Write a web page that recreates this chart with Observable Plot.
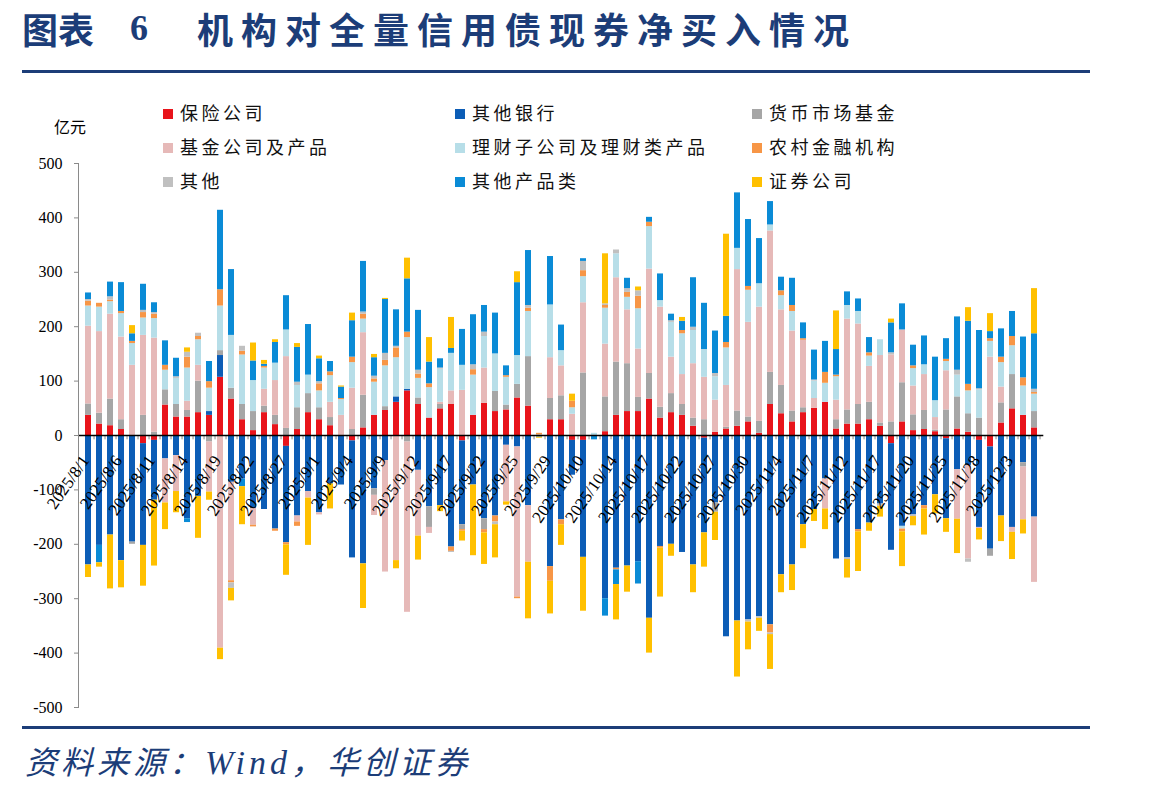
<!DOCTYPE html>
<html><head><meta charset="utf-8">
<script src="https://cdn.jsdelivr.net/npm/d3@7"></script>
<script src="https://cdn.jsdelivr.net/npm/@observablehq/plot@0.6"></script>
<style>
body{margin:0;background:#fff;}
#page{position:relative;width:1149px;height:796px;overflow:hidden;background:#fff;font-family:"Noto Sans CJK SC",sans-serif;}
.rule{position:absolute;left:22px;width:1068px;height:3px;background:#1C3D78;}
.t{position:absolute;top:8px;font-size:36px;line-height:40px;font-weight:700;color:#1C3D78;white-space:nowrap;}
#chart{position:absolute;left:0;top:95px;}
#unit{position:absolute;left:54px;top:116px;font-size:16px;line-height:20px;color:#000;}
.lg{position:absolute;font-size:18px;line-height:22px;letter-spacing:3.5px;color:#111;white-space:nowrap;}
.lg i{display:inline-block;width:10px;height:10px;margin-right:7px;vertical-align:1px;}
#source{position:absolute;left:25px;top:739px;font-size:32px;line-height:42px;font-style:italic;letter-spacing:4px;color:#1C3D78;white-space:nowrap;}
#source .w{font-family:"Liberation Serif",serif;letter-spacing:4px;font-size:34px;}
</style></head><body>
<div id="page">
  <span class="t" style="left:22px">图表</span>
  <span class="t" style="left:130px;font-family:'Liberation Serif',serif">6</span>
  <span class="t" style="left:197px;letter-spacing:8px">机构对全量信用债现券净买入情况</span>
  <div class="rule" style="top:70px"></div>
  <div id="chart"></div>
  <div id="unit">亿元</div>
  <div id="legend"></div>
  <div class="rule" style="top:726px"></div>
  <div id="source">资料来源：<span class="w">Wind</span>，华创证券</div>
</div>
<script>
const dates = ["2025/8/1","2025/8/4","2025/8/5","2025/8/6","2025/8/7","2025/8/8","2025/8/11","2025/8/12","2025/8/13","2025/8/14","2025/8/15","2025/8/18","2025/8/19","2025/8/20","2025/8/21","2025/8/22","2025/8/25","2025/8/26","2025/8/27","2025/8/28","2025/8/29",
"2025/9/1","2025/9/2","2025/9/3","2025/9/4","2025/9/5","2025/9/8","2025/9/9","2025/9/10","2025/9/11","2025/9/12","2025/9/15","2025/9/16","2025/9/17","2025/9/18","2025/9/19","2025/9/22","2025/9/23","2025/9/24","2025/9/25","2025/9/26","2025/9/28","2025/9/29","2025/9/30",
"2025/10/9","2025/10/10","2025/10/11","2025/10/13","2025/10/14","2025/10/15","2025/10/16","2025/10/17","2025/10/20","2025/10/21","2025/10/22","2025/10/23","2025/10/24","2025/10/27","2025/10/28","2025/10/29","2025/10/30","2025/10/31",
"2025/11/3","2025/11/4","2025/11/5","2025/11/6","2025/11/7","2025/11/10","2025/11/11","2025/11/12","2025/11/13","2025/11/14","2025/11/17","2025/11/18","2025/11/19","2025/11/20","2025/11/21","2025/11/24","2025/11/25","2025/11/26","2025/11/27","2025/11/28",
"2025/12/1","2025/12/2","2025/12/3","2025/12/4","2025/12/5"];

const seriesNames = ["保险公司","其他银行","货币市场基金","基金公司及产品","理财子公司及理财类产品","农村金融机构","其他","其他产品类","证券公司"];
const seriesColors = ["#E8141B","#0C5DB6","#A6A6A6","#E6B9B8","#B7DEE8","#F79646","#C0C0C0","#0A8BD6","#FFC000"];

const insurance = [37,21,18,11,0,-15,-9,56,34,34,42,37,107,67,29,9,42,20,-20,11,42,29,18,0,-10,14,37,46,61,82,57,32,49,57,-10,37,59,44,47,69,54,0,29,29,-9,-9,0,7,37,44,44,67,32,42,37,17,-5,6,12,17,25,4,57,40,25,42,50,61,12,21,21,29,17,-15,25,9,11,7,-6,12,6,-9,-21,23,49,37,14];
const otherBanks = [-238,-202,-183,-230,-196,-187,-110,-43,-37,-153,-112,7,40,-86,-80,-134,-136,-172,-177,-148,-103,-142,-89,-91,-215,-236,-98,-46,10,3,-64,-131,-129,-205,-154,-91,-153,-148,-18,-21,-129,0,-241,-155,-64,-215,0,-300,-244,-240,-232,-336,-204,-200,-215,-238,-174,-124,-370,-341,-339,-333,-348,-256,-238,-164,-136,-80,-227,-225,-173,-161,-126,-196,-167,-146,-129,-109,-147,-63,-55,-160,-188,-148,-169,-50,-150];
const moneyFunds = [21,20,49,18,-4,37,6,28,23,12,58,-12,9,20,28,35,12,17,13,40,35,22,15,0,11,60,-12,7,0,-12,12,-38,8,0,-9,0,-20,37,9,25,91,0,39,44,0,115,0,64,98,88,26,47,20,35,20,15,29,-17,3,28,9,22,59,52,20,9,0,0,17,26,36,32,6,25,72,29,35,3,47,59,34,32,-13,37,63,-8,30];
const fundProducts = [143,150,156,152,129,147,173,-81,-66,17,29,-92,-391,-181,0,-31,31,64,132,-11,-12,-4,28,37,76,115,-37,-205,-230,-313,-121,-11,4,25,83,0,65,0,-104,-276,-104,0,75,55,39,129,0,97,155,99,89,192,184,67,55,100,78,59,77,260,174,210,260,139,147,124,18,-55,36,167,148,66,124,123,97,53,66,23,72,-91,-172,-2,144,29,-9,-97,-120];
const wealthMgmt = [37,45,23,43,40,32,36,36,48,61,47,43,82,97,91,57,39,32,49,41,34,31,49,29,47,25,61,75,72,95,36,56,61,69,46,74,58,69,51,53,83,1,97,28,12,48,4,66,44,23,74,78,12,64,75,61,51,43,69,39,59,43,11,26,36,0,32,35,43,25,23,19,29,0,-5,32,18,31,17,40,42,52,29,45,53,54,32];
const ruralFin = [9,7,3,4,4,10,8,9,0,20,6,12,30,-4,7,-3,3,-4,-4,-8,0,13,7,2,10,9,6,10,18,10,8,7,0,-8,-3,10,-6,-11,3,-3,6,3,-27,-9,12,11,0,5,-3,9,23,8,-3,0,6,0,0,0,10,0,7,0,-15,9,11,3,0,20,3,0,-4,6,0,0,-5,5,-6,0,4,0,12,0,5,10,17,15,3];
const others = [3,0,6,0,0,4,3,0,3,9,6,0,0,-10,9,0,0,0,0,6,0,4,0,0,0,4,5,13,3,0,7,0,2,-2,0,9,8,-5,0,0,5,0,0,0,0,17,0,3,7,7,10,0,0,3,0,6,0,6,0,0,-4,-3,-3,0,0,0,2,0,0,-3,0,0,-4,4,0,-3,0,0,0,9,-6,2,0,0,0,0,6];
const otherProducts = [12,-32,27,53,14,48,18,45,34,-7,0,37,146,121,-14,36,4,38,63,64,93,42,19,21,67,93,34,99,67,98,110,40,17,9,66,92,49,75,18,134,101,-3,89,47,0,5,-8,-32,-27,19,-41,9,49,12,17,91,85,78,48,102,123,83,43,25,50,29,55,57,47,25,23,28,0,55,48,38,53,80,38,98,116,107,13,52,46,75,102];
const securities = [-23,-8,-99,-50,15,-75,-121,-49,-39,8,-77,-15,-21,-23,-70,33,7,5,-56,7,-87,5,-46,2,14,-82,6,2,-15,38,-44,45,-11,57,-18,-130,-58,-61,-6,20,-104,-2,-60,-38,13,-99,0,92,-65,-48,7,-64,-90,-22,7,-51,-63,-52,151,-103,-51,-24,-64,-33,-47,-44,-22,-38,71,-34,-73,-15,-20,7,-64,-17,-48,-35,-25,-63,25,-21,33,-47,-50,-26,83];

const yTicks = [-500,-400,-300,-200,-100,0,100,200,300,400,500];
const labelDates = dates.filter((d, i) => i % 3 === 0);

const seriesValues = [insurance, otherBanks, moneyFunds, fundProducts, wealthMgmt, ruralFin, others, otherProducts, securities];
const rows = [];
dates.forEach((d, i) => seriesNames.forEach((s, k) => rows.push({date: d, series: s, value: seriesValues[k][i]})));

const W = 1149, H = 625, ML = 78, MR = 105.7;
const step = (W - ML - MR) / (dates.length - 0.45 + 2 * 0.266);

const chart = Plot.plot({
  width: W, height: H,
  marginLeft: ML, marginRight: MR, marginTop: 68, marginBottom: 13,
  style: {background: "transparent", fontFamily: "'Liberation Serif', serif", fontSize: "16px", color: "#000", overflow: "visible"},
  x: {type: "band", domain: dates, paddingInner: 0.45, paddingOuter: 0.266, axis: null},
  y: {domain: [-500, 500], axis: null},
  color: {domain: seriesNames, range: seriesColors},
  marks: [
    Plot.barY(rows, {x: "date", y: "value", fill: "series"}),
    Plot.ruleX(dates, {x: d => d, y1: 0, y2: -8, dx: step / 2, stroke: "#8a8a8a"}),
    Plot.ruleY([0], {stroke: "#000", strokeWidth: 1.5}),
    Plot.axisY({ticks: yTicks, tickSize: 4, tickPadding: 12, fontSize: 16, label: null, stroke: "#8a8a8a", tickFormat: d => String(d)}),
    Plot.frame({anchor: "left", stroke: "#8a8a8a"}),
    Plot.text(labelDates, {x: d => d, y: 0, text: d => d, rotate: -55, textAnchor: "end", dx: -3, dy: 22, fontSize: 17, fill: "#000"})
  ]
});
document.getElementById("chart").appendChild(chart);

const legendX = [163, 455, 752], legendY = [112, 146, 180];
const lg = document.getElementById("legend");
seriesNames.forEach((s, k) => {
  const el = document.createElement("div");
  el.className = "lg";
  el.style.left = legendX[k % 3] + "px";
  el.style.top = (legendY[Math.floor(k / 3)] - 11) + "px";
  el.innerHTML = `<i style="background:${seriesColors[k]}"></i>${s}`;
  lg.appendChild(el);
});
</script>
</body></html>
